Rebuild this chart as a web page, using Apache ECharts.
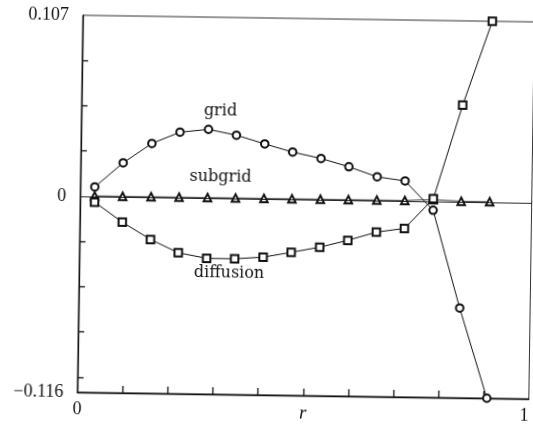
<!DOCTYPE html>
<html>
<head>
<meta charset="utf-8">
<script src="https://cdn.jsdelivr.net/npm/echarts@6/dist/echarts.min.js"></script>
<style>
  html, body { margin: 0; padding: 0; background: #fff; overflow: hidden; }
  #chart { width: 533px; height: 426px; transform: rotate(0.84deg); transform-origin: 50% 50%; }
</style>
</head>
<body>
<div id="chart"></div>
<script>
// ---- data ----
const rValues = [0.032, 0.094, 0.157, 0.219, 0.282, 0.344, 0.407, 0.469, 0.532, 0.594, 0.657, 0.719, 0.782, 0.844, 0.907];
const gridValues = [0.0056, 0.0201, 0.0318, 0.0387, 0.0406, 0.0374, 0.0325, 0.0279, 0.0244, 0.0197, 0.0140, 0.0118, -0.0053, -0.0629, -0.116];
const subgridValues = [0.0003, 0.0003, 0.0003, 0.0003, 0.0003, 0.0003, 0.0003, 0.0003, 0.0003, 0.0003, 0.0003, 0.0003, 0.0010, 0.0003, 0.0003];
const diffusionValues = [-0.0034, -0.0150, -0.0250, -0.0326, -0.0357, -0.0357, -0.0345, -0.0314, -0.0281, -0.0238, -0.0187, -0.0163, 0.0015, 0.0571, 0.107];
const seriesNames = ['grid', 'subgrid', 'diffusion'];
const yLabelValues = [-0.116, 0, 0.107];
const yLabelTexts = ['\u22120.116', '0', '0.107'];
const yTickValues = [-0.107, -0.08025, -0.0535, -0.02675, 0.02675, 0.0535, 0.08025];
const xLabelValues = [0, 1];
const xLabelTexts = ['0', '1'];
const xTickValues = [0.1, 0.2, 0.3, 0.4, 0.5, 0.6, 0.7, 0.8, 0.9];
const xName = 'r';

const pairs = vals => rValues.map((r, i) => [r, vals[i]]);

const chart = echarts.init(document.getElementById('chart'), null, { renderer: 'canvas' });
const numFont = 'Liberation Serif';
const lineCommon = {
  type: 'line',
  symbolSize: 7.5,
  clip: false,
  lineStyle: { color: '#111', width: 1 },
  itemStyle: { color: '#111', borderColor: '#111', borderWidth: 1 },
  emphasis: { disabled: true },
  animation: false
};

chart.setOption({
  backgroundColor: '#fff',
  animation: false,
  grid: { left: 80, right: 1.5, top: 18, bottom: 31, containLabel: false, outerBoundsMode: 'none', show: true, borderColor: '#333', borderWidth: 1, backgroundColor: 'transparent' },
  xAxis: {
    type: 'value', min: 0, max: 1,
    name: xName, nameLocation: 'middle', nameGap: 8, nameMoveOverlap: false,
    nameTextStyle: { fontFamily: numFont, fontStyle: 'italic', fontSize: 19, color: '#111', verticalAlign: 'top' },
    axisLine: { show: true, onZero: false, lineStyle: { color: '#111', width: 1.3 } },
    axisTick: { show: true, inside: true, length: 7, customValues: xTickValues, lineStyle: { color: '#111', width: 1.3 } },
    axisLabel: {
      show: true, customValues: xLabelValues, margin: 8, hideOverlap: false,
      alignMaxLabel: 'right',
      fontFamily: numFont, fontSize: 18, color: '#111',
      formatter: v => xLabelTexts[xLabelValues.indexOf(v)] ?? ''
    },
    splitLine: { show: false }
  },
  yAxis: {
    type: 'value', min: -0.116, max: 0.107,
    axisLine: { show: true, onZero: false, lineStyle: { color: '#111', width: 1.3 } },
    axisTick: { show: true, inside: true, length: 6, customValues: yTickValues, lineStyle: { color: '#111', width: 1.3 } },
    axisLabel: {
      show: true, customValues: yLabelValues, margin: 14, hideOverlap: false,
      fontFamily: numFont, fontSize: 18, color: '#111',
      formatter: v => {
        const i = yLabelValues.findIndex(x => Math.abs(x - v) < 1e-9);
        return i >= 0 ? yLabelTexts[i] : '';
      }
    },
    splitLine: { show: false }
  },
  series: [
    Object.assign({}, lineCommon, { name: seriesNames[0], symbol: 'emptyCircle', data: pairs(gridValues) }),
    Object.assign({}, lineCommon, {
      name: seriesNames[1], symbol: 'emptyTriangle', data: pairs(subgridValues),
      lineStyle: { color: '#111', width: 0.8 },
      markLine: { silent: true, symbol: 'none', label: { show: false }, lineStyle: { color: '#111', width: 0.9, type: 'solid' }, data: [{ yAxis: 0 }], animation: false }
    }),
    Object.assign({}, lineCommon, { name: seriesNames[2], symbol: 'emptyRect', data: pairs(diffusionValues) })
  ],
  graphic: [
    { type: 'text', x: 219, y: 112, style: { text: seriesNames[0], align: 'center', verticalAlign: 'middle', font: '16px "DejaVu Serif"', fill: '#111' } },
    { type: 'text', x: 220, y: 178, style: { text: seriesNames[1], align: 'center', verticalAlign: 'middle', font: '16px "DejaVu Serif"', fill: '#111' } },
    { type: 'text', x: 230, y: 274, style: { text: seriesNames[2], align: 'center', verticalAlign: 'middle', font: '16px "DejaVu Serif"', fill: '#111' } }
  ]
});
</script>
</body>
</html>
